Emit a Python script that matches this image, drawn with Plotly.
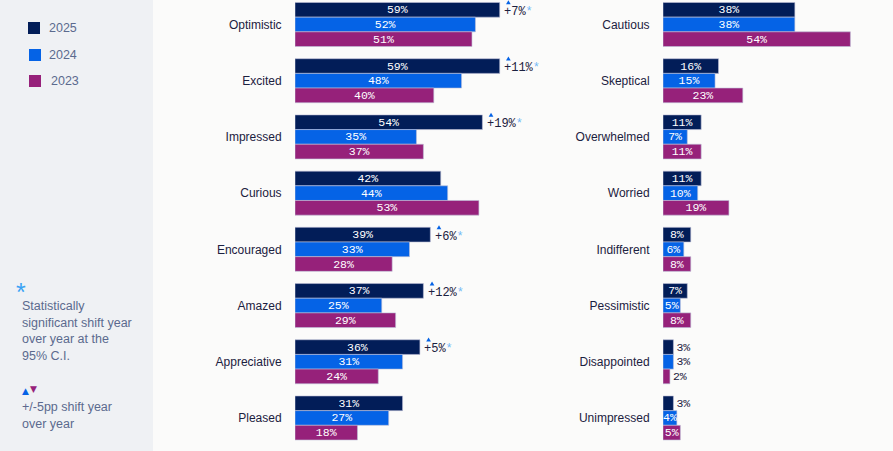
import plotly.graph_objects as go

# ---------------- data ----------------
years = ["2025", "2024", "2023"]
year_colors = ["#021d58", "#0563e6", "#96217a"]

left_cats = ["Optimistic", "Excited", "Impressed", "Curious", "Encouraged",
             "Amazed", "Appreciative", "Pleased"]
left_2025 = [59, 59, 54, 42, 39, 37, 36, 31]
left_2024 = [52, 48, 35, 44, 33, 25, 31, 27]
left_2023 = [51, 40, 37, 53, 28, 29, 24, 18]
left_delta = [7, 11, 19, None, 6, 12, 5, None]
left_sig = [True, True, True, False, True, True, True, False]

right_cats = ["Cautious", "Skeptical", "Overwhelmed", "Worried", "Indifferent",
              "Pessimistic", "Disappointed", "Unimpressed"]
right_2025 = [38, 16, 11, 11, 8, 7, 3, 3]
right_2024 = [38, 15, 7, 10, 6, 5, 3, 4]
right_2023 = [54, 23, 11, 19, 8, 8, 2, 5]

footnote_sig = ["Statistically", "significant shift year", "over year at the", "95% C.I."]
footnote_shift = ["+/-5pp shift year", "over year"]

# ---------------- styling ----------------
W, H = 893, 451
DARK = "#1b2140"
SLATE = "#5b6a8e"
MONO = "Liberation Mono"
SANS = "Liberation Sans"
PX_PER_PCT = 3.47
LEFT_X0 = 295
RIGHT_X0 = 663
LEFT_MAX = 70
RIGHT_MAX = 65
ROW_PX = 56.21
ROW0_PX = 24.5
BAR_PX = 14.67


def px_x(p):
    return p / W


def px_y(p):
    return 1 - p / H


fig = go.Figure()

left_series = [left_2025, left_2024, left_2023]
right_series = [right_2025, right_2024, right_2023]

for i, yr in enumerate(years):
    for side, cats, vals in (("L", left_cats, left_series[i]), ("R", right_cats, right_series[i])):
        pos = ["outside" if v <= 3 else "inside" for v in vals]
        fig.add_trace(go.Bar(
            y=cats, x=vals, orientation="h", name=yr,
            marker=dict(color=year_colors[i],
                        line=dict(color="rgba(190,192,215,0.75)", width=0.8)),
            text=[f"{v}%" for v in vals],
            textposition=pos,
            insidetextanchor="middle",
            textangle=0,
            constraintext="none",
            cliponaxis=False,
            insidetextfont=dict(family=MONO, size=11.5, color="#ffffff"),
            outsidetextfont=dict(family=MONO, size=11.5, color=DARK),
            xaxis="x" if side == "L" else "x2",
            yaxis="y" if side == "L" else "y2",
            showlegend=False,
            hoverinfo="skip",
        ))

n = len(left_cats)
y_top = -ROW0_PX / ROW_PX
y_bot = (n - 1) + (H - (ROW0_PX + (n - 1) * ROW_PX)) / ROW_PX

axis_common = dict(showgrid=False, zeroline=False, showline=False)
fig.update_layout(
    width=W, height=H,
    margin=dict(l=0, r=0, t=0, b=0),
    paper_bgcolor="#fbfbfa",
    plot_bgcolor="rgba(0,0,0,0)",
    barmode="group",
    bargap=1 - 3 * BAR_PX / ROW_PX,
    bargroupgap=0,
    xaxis=dict(domain=[px_x(LEFT_X0), px_x(LEFT_X0 + LEFT_MAX * PX_PER_PCT)],
               range=[0, LEFT_MAX], visible=False, anchor="y", **axis_common),
    xaxis2=dict(domain=[px_x(RIGHT_X0), px_x(RIGHT_X0 + RIGHT_MAX * PX_PER_PCT)],
                range=[0, RIGHT_MAX], visible=False, anchor="y2", **axis_common),
    yaxis=dict(domain=[0, 1], anchor="x", type="category",
               categoryorder="array", categoryarray=left_cats,
               range=[y_bot, y_top], ticks="outside", ticklen=10,
               tickcolor="rgba(0,0,0,0)", automargin=False,
               tickfont=dict(family=SANS, size=12, color=DARK), **axis_common),
    yaxis2=dict(domain=[0, 1], anchor="x2", type="category",
                categoryorder="array", categoryarray=right_cats,
                range=[y_bot, y_top], ticks="outside", ticklen=10,
                tickcolor="rgba(0,0,0,0)", automargin=False,
                tickfont=dict(family=SANS, size=12, color=DARK), **axis_common),
    font=dict(family=SANS),
)

shapes = [dict(type="rect", xref="paper", yref="paper", x0=0, x1=px_x(153),
               y0=0, y1=1, fillcolor="#eff1f4", line=dict(width=0), layer="below")]
annotations = []

# legend (custom, in the sidebar)
leg_y = [28, 55, 81]
leg_sq_x = [28, 29, 29]
leg_tx_x = [47, 47, 49]
for i, yr in enumerate(years):
    shapes.append(dict(type="rect", xref="paper", yref="paper",
                       x0=px_x(leg_sq_x[i]), x1=px_x(leg_sq_x[i] + 12),
                       y0=px_y(leg_y[i] + 6), y1=px_y(leg_y[i] - 6),
                       fillcolor=year_colors[i], line=dict(width=0)))
    annotations.append(dict(xref="paper", yref="paper", x=px_x(leg_tx_x[i]), y=px_y(leg_y[i]),
                            text=yr, showarrow=False, xanchor="left", yanchor="middle",
                            font=dict(family=SANS, size=12.5, color=SLATE)))

# footnotes
annotations.append(dict(xref="paper", yref="paper", x=px_x(14), y=px_y(292),
                        text="*", showarrow=False, xanchor="left", yanchor="middle",
                        font=dict(family=SANS, size=25, color="#3aa3f5")))
for k, line in enumerate(footnote_sig):
    annotations.append(dict(xref="paper", yref="paper", x=px_x(20), y=px_y(306 + 16.7 * k),
                            text=line, showarrow=False, xanchor="left", yanchor="middle",
                            font=dict(family=SANS, size=12.5, color=SLATE)))
annotations.append(dict(xref="paper", yref="paper", x=px_x(25.5), y=px_y(391),
                        text="▲", showarrow=False, xanchor="center", yanchor="middle",
                        font=dict(family="DejaVu Sans", size=9, color=year_colors[1])))
annotations.append(dict(xref="paper", yref="paper", x=px_x(33), y=px_y(389),
                        text="▼", showarrow=False, xanchor="center", yanchor="middle",
                        font=dict(family="DejaVu Sans", size=9, color=year_colors[2])))
for k, line in enumerate(footnote_shift):
    annotations.append(dict(xref="paper", yref="paper", x=px_x(20), y=px_y(407 + 16.5 * k),
                            text=line, showarrow=False, xanchor="left", yanchor="middle",
                            font=dict(family=SANS, size=12.5, color=SLATE)))

# year-over-year shift markers on the 2025 bars
tri_x0, tri_x1 = 6.3, 11.0
tri_yb, tri_yt = BAR_PX + 5.5, BAR_PX + 9.5
for idx, (cat, v, d, sig) in enumerate(zip(left_cats, left_2025, left_delta, left_sig)):
    if d is None:
        continue
    star = "<span style='color:#72b9f6'>*</span>" if sig else ""
    annotations.append(dict(xref="x", yref="y", x=v, y=cat, xanchor="left", yanchor="middle",
                            xshift=2.5, yshift=BAR_PX - 2, showarrow=False,
                            text=f"+{d}%" + star,
                            font=dict(family=MONO, size=12, color=DARK)))
    shapes.append(dict(type="path", xref="x", yref="y",
                       xsizemode="pixel", ysizemode="pixel",
                       xanchor=v, yanchor=idx,
                       path=(f"M{tri_x0},{tri_yb} L{tri_x1},{tri_yb} "
                             f"L{(tri_x0 + tri_x1) / 2},{tri_yt} Z"),
                       fillcolor=year_colors[1], line=dict(width=0)))

fig.update_layout(shapes=shapes, annotations=annotations)
fig.write_html("out.html", config={"displayModeBar": False},
               post_script="document.body.style.margin='0';document.body.style.padding='0';")
